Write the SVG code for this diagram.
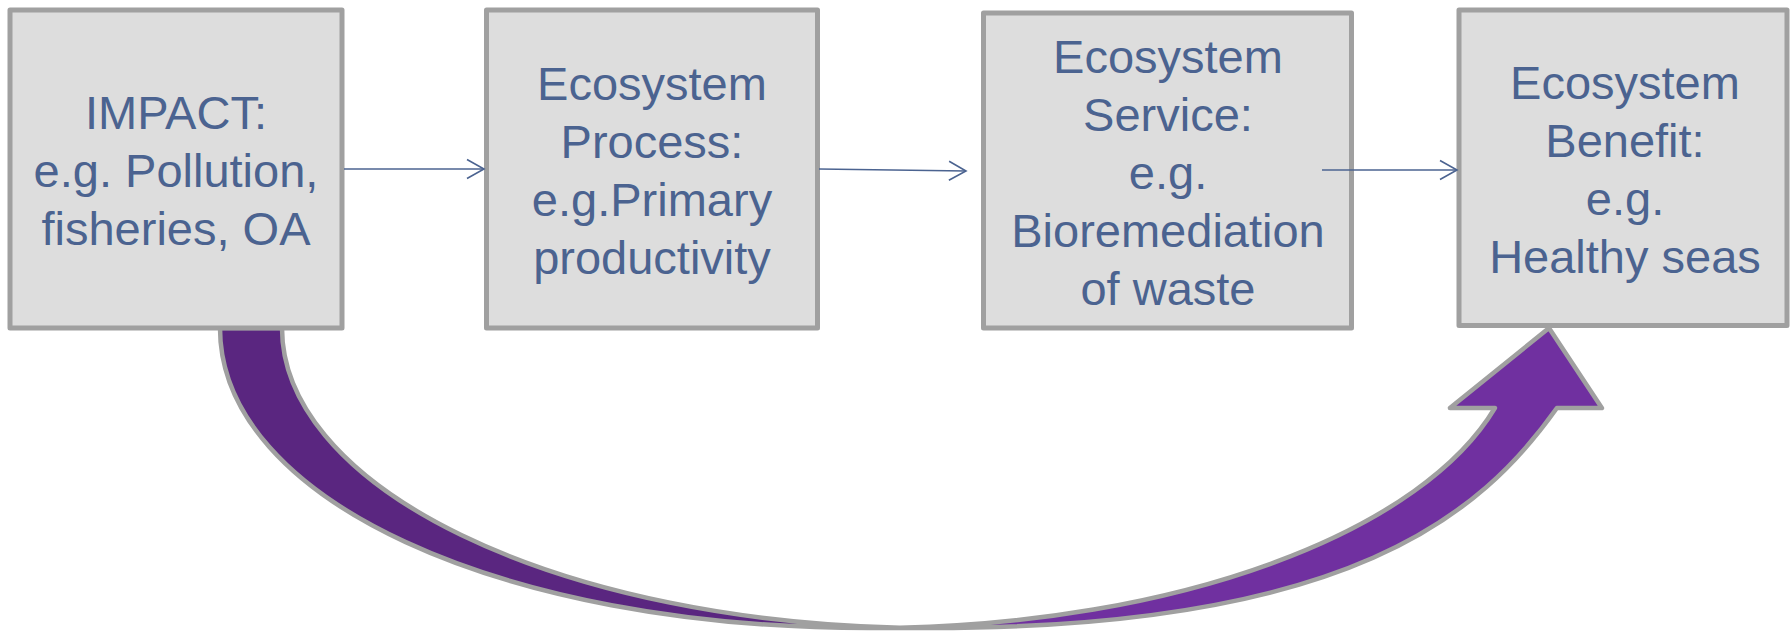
<svg xmlns="http://www.w3.org/2000/svg" width="1791" height="631" viewBox="0 0 1791 631">
  <style>
    .box { fill: #DDDDDD; stroke: #A0A0A0; stroke-width: 5; stroke-linejoin: round; }
    .lbl { font-family: "Liberation Sans", Arial, sans-serif; font-size: 47px; fill: #4B6390; text-anchor: middle; }
    .conn { stroke: #4B6390; stroke-width: 1.6; fill: none; }
    .big-outline { fill: none; stroke: #A0A0A0; stroke-width: 4.5; stroke-linejoin: round; }
  </style>
  <defs>
    <marker id="open" markerUnits="userSpaceOnUse" markerWidth="22" markerHeight="24" refX="18" refY="11" orient="auto">
      <polyline points="1,1.5 18,11 1,20.5" fill="none" stroke="#4B6390" stroke-width="1.6"/>
    </marker>
  </defs>

  <g id="big-arrow">
    <path d="M 220,328 C 220,499 499,628 869,628 L 900,627.66 A 649 300 0 0 1 282,328 Z" fill="#5A2680"/>
    <path d="M 1549,328 L 1601.9,408 L 1556.9,408 C 1481.6,514 1351,628 931,628 L 900,627.66 A 649 300 0 0 0 1494.9,408 L 1449.9,408 Z" fill="#7030A0"/>
    <path class="big-outline" d="M 900,627.66 A 649 300 0 0 0 1494.9,408 L 1449.9,408 L 1549,328 L 1601.9,408 L 1556.9,408 C 1481.6,514 1351,628 931,628 L 869,628 C 499,628 220,499 220,328 L 282,328 A 649 300 0 0 0 900,627.66"/>
  </g>

  <g id="impact">
    <rect class="box" x="10" y="10" width="332" height="318"/>
    <text class="lbl" x="176" y="129.3">IMPACT:</text>
    <text class="lbl" x="176" y="187.1">e.g. Pollution,</text>
    <text class="lbl" x="176" y="244.9">fisheries, OA</text>
  </g>

  <g id="process">
    <rect class="box" x="486.5" y="10" width="331" height="318"/>
    <text class="lbl" x="652" y="100.3">Ecosystem</text>
    <text class="lbl" x="652" y="158.1">Process:</text>
    <text class="lbl" x="652" y="215.9">e.g.Primary</text>
    <text class="lbl" x="652" y="273.7">productivity</text>
  </g>

  <g id="service">
    <rect class="box" x="983.5" y="13" width="368" height="315"/>
    <text class="lbl" x="1168" y="73.4">Ecosystem</text>
    <text class="lbl" x="1168" y="131.2">Service:</text>
    <text class="lbl" x="1168" y="189">e.g.</text>
    <text class="lbl" x="1168" y="246.8">Bioremediation</text>
    <text class="lbl" x="1168" y="304.6">of waste</text>
  </g>

  <g id="benefit">
    <rect class="box" x="1459" y="10" width="328" height="315.5"/>
    <text class="lbl" x="1625" y="99.4">Ecosystem</text>
    <text class="lbl" x="1625" y="157.2">Benefit:</text>
    <text class="lbl" x="1625" y="215">e.g.</text>
    <text class="lbl" x="1625" y="272.8">Healthy seas</text>
  </g>

  <g id="connectors">
    <line class="conn" x1="344" y1="169" x2="484" y2="169" marker-end="url(#open)"/>
    <line class="conn" x1="819" y1="169" x2="966" y2="171" marker-end="url(#open)"/>
    <line class="conn" x1="1322" y1="170" x2="1457" y2="170" marker-end="url(#open)"/>
  </g>
</svg>
